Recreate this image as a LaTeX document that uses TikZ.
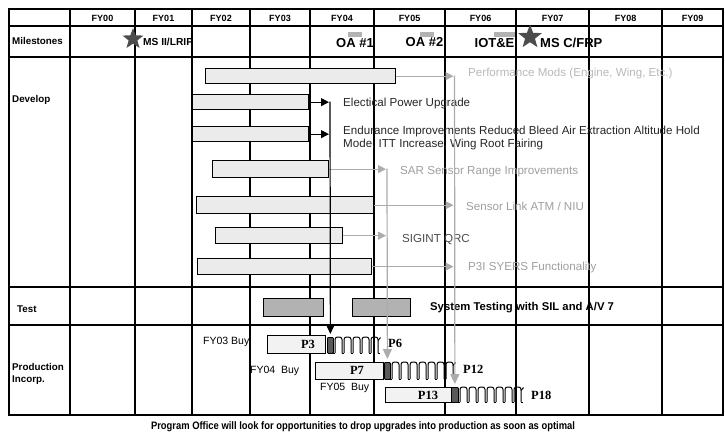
\documentclass[tikz,border=0pt]{standalone}
\usepackage{graphicx}
\usepackage{fontspec}
\setmainfont{Liberation Sans}
\newfontfamily\tms{Liberation Serif}
\usetikzlibrary{arrows.meta,shapes.geometric}
\newcommand\mybar[6]{\node[#1, minimum width={(#5-#3)*1pt}, minimum height={(#6-#4)*1pt}] (#2) at (#3,#4) {};}
\newcommand\mychain[4]{%
  \draw[line width=1pt] ({#1-2},#4) -- (#1,#4);
  \foreach \i in {1,...,#2}{%
    \pgfmathsetmacro\xa{#1+(\i-1)*9}
    \draw[chainst] (\xa,#4) -- (\xa,#3) -- (\xa+7,#3) -- (\xa+7,#4);
    \ifnum\i<#2 \draw[line width=1pt] (\xa+7,#4) -- (\xa+9,#4);\fi
  }
  \draw[line width=1pt] ({#1+(#2-1)*9+7},{#3+3.5}) -- ++(2.5,-3);
  \draw[line width=1pt] ({#1+(#2-1)*9+7},#4) -- ++(2,0);}
\begin{document}
\begin{tikzpicture}[x=1pt,y=-1pt,
  gridline/.style={line width=1.4pt},
  hdr/.style={font=\bfseries\fontsize{9}{10}\selectfont},
  rowlbl/.style={font=\bfseries\fontsize{9.8}{12}\selectfont, anchor=west, align=left, inner sep=0},
  devbar/.style={draw, line width=1.3pt, fill=gray!16, inner sep=0, anchor=north west},
  testbar/.style={draw, line width=1.3pt, fill=gray!60, inner sep=0, anchor=north west},
  prodbox/.style={draw, line width=1pt, fill=gray!10, inner sep=0, anchor=north west},
  darkrect/.style={draw, line width=0.8pt, fill=gray!70!black, inner sep=0, anchor=north west, rounded corners=1pt},
  chainst/.style={line width=1pt, rounded corners=2.5pt},
  dtext/.style={font=\fontsize{11.6}{13.5}\selectfont, anchor=west, inner sep=0, align=left},
  gtext/.style={dtext, text=gray!75},
  msl/.style={font=\bfseries\fontsize{13}{14}\selectfont, inner sep=0},
  msrect/.style={fill=gray!60, inner sep=0, anchor=north west},
  mstar/.style={star, star points=5, star point ratio=2.4, fill=gray!60!black, inner sep=0},
  plabel/.style={font=\tms\bfseries\fontsize{12.5}{14}\selectfont, inner sep=0},
  buy/.style={font=\fontsize{10.5}{12}\selectfont, anchor=west, inner sep=0},
  garrow/.style={draw=gray!65, line width=1.1pt, -{Triangle[length=8pt,width=8pt]}},
  barrow/.style={draw=black, line width=1.1pt, -{Triangle[length=8pt,width=8pt]}},
  gvline/.style={draw=gray!65, line width=1.2pt, -{Triangle[length=10pt,width=9pt]}, shorten >=3pt},
  bvline/.style={draw=black, line width=1.2pt, -{Triangle[length=10pt,width=9pt]}, shorten >=3pt}
]
\fill[white] (0,0) rectangle (725,440);
\useasboundingbox (0,0) rectangle (725,440);

% grid
\draw[gridline] (9,9) rectangle (723,415);
\foreach \y in {26,57,287,325} \draw[gridline] (9,\y) -- (723,\y);
\foreach \x in {70,135,192,250,310,374,445,516,589,662} \draw[gridline] (\x,9) -- (\x,415);

% headers
\node[hdr] (h0) at (102.5,18) {FY00};
\node[hdr] (h1) at (163.5,18) {FY01};
\node[hdr] (h2) at (221,18) {FY02};
\node[hdr] (h3) at (280,18) {FY03};
\node[hdr] (h4) at (342,18) {FY04};
\node[hdr] (h5) at (409.5,18) {FY05};
\node[hdr] (h6) at (480.5,18) {FY06};
\node[hdr] (h7) at (552.5,18) {FY07};
\node[hdr] (h8) at (625.5,18) {FY08};
\node[hdr] (h9) at (692.5,18) {FY09};

% row labels
\node[rowlbl] (rMil) at (12,41) {Milestones};
\node[rowlbl] (rDev) at (12,100) {Develop};
\node[rowlbl] (rTest) at (17,309) {Test};
\node[rowlbl] (rProd) at (12,374) {Production\\Incorp.};

% milestones
\node[mstar, minimum size=22pt] (s1) at (133,39) {};
\node[font=\bfseries\fontsize{10.2}{11}\selectfont, anchor=west, inner sep=0] (ms2) at (143,42) {MS II/LRIP};
\node[msrect, minimum width=14pt, minimum height=5pt] (oa1r) at (348,31.5) {};
\node[msl] (oa1) at (355,43) {OA \#1};
\node[msrect, minimum width=14pt, minimum height=5pt] (oa2r) at (420,31.5) {};
\node[msl] (oa2) at (424.5,42) {OA \#2};
\node[msrect, minimum width=21pt, minimum height=5pt] (iotr) at (494,31.5) {};
\node[msl] (iot) at (494.5,43) {IOT\&E};
\node[mstar, minimum size=25pt] (s2) at (530,37) {};
\node[msl, anchor=west] (msc) at (540,43) {MS C/FRP};

% develop bars
\mybar{devbar}{b1}{205}{68}{395}{83}
\mybar{devbar}{b2}{192}{94}{308}{109}
\mybar{devbar}{b3}{192}{126}{308}{141}
\mybar{devbar}{b4}{212}{160}{328}{177}
\mybar{devbar}{b5}{196}{196}{373}{213}
\mybar{devbar}{b6}{215}{227}{342}{243}
\mybar{devbar}{b7}{197}{258}{371}{274}

% develop labels
\node[gtext, text=gray!55] (t1) at (468,73) {Performance Mods (Engine, Wing, Etc.)};
\node[dtext, text=black!85] (t2) at (343,103) {Electical Power Upgrade};
\node[dtext, text=black!85] (t3) at (343,138) {Endurance Improvements Reduced Bleed Air Extraction Altitude Hold\\Mode, ITT Increase, Wing Root Fairing};
\node[gtext] (t4) at (400,172) {SAR Sensor Range Improvements};
\node[gtext] (t5) at (466,206) {Sensor Link ATM / NIU};
\node[dtext, text=black!70] (t6) at (402,240) {SIGINT QRC};
\node[gtext] (t7) at (468,267) {P3I SYERS Functionality};

% test
\mybar{testbar}{tb1}{263}{298}{323}{316}
\mybar{testbar}{tb2}{352}{298}{410}{316}
\node[font=\bfseries\fontsize{11.3}{12}\selectfont, anchor=west, inner sep=0] (tt) at (430,308) {System Testing with SIL and A/V 7};

% production
\node[buy] (buy3) at (203,342) {FY03 Buy};
\mybar{prodbox}{p3}{267}{335}{325}{353}
\node[plabel] (p3l) at (308,344) {P3};
\mybar{darkrect}{d3}{327}{337}{333}{353}
\mychain{335}{5}{337}{353}
\node[plabel, anchor=west] (p6) at (388,343) {P6};

\node[buy] (buy4) at (250,371) {FY04\ \ Buy};
\mybar{prodbox}{p7}{315}{362}{383}{379}
\node[plabel] (p7l) at (357,370.5) {P7};
\mybar{darkrect}{d7}{384}{362}{390}{379}
\mychain{392}{7}{362}{379}
\node[plabel, anchor=west] (p12) at (463,369) {P12};

\node[buy] (buy5) at (320,388) {FY05\ \ Buy};
\mybar{prodbox}{p13}{385}{387}{451}{402}
\node[plabel] (p13l) at (428,395) {P13};
\mybar{darkrect}{d13}{451}{387}{458}{402}
\mychain{460}{7}{387}{402}
\node[plabel, anchor=west] (p18) at (531,395) {P18};

% connectors
\coordinate (v1) at (330,101.5);
\coordinate (v2) at (387,168.5);
\coordinate (v3) at (454.5,75.5);
\draw[garrow, shorten >=1pt] (b1.east) -- (b1.east -| v3);
\draw[barrow] (b2.east) -- ([xshift=-1pt]b2.east -| v1);
\draw[barrow] (b3.east) -- ([xshift=-1pt]b3.east -| v1);
\draw[garrow] (b4.east) -- ([xshift=-1pt]b4.east -| v2);
\draw[garrow] (b5.east) -- ([xshift=-1pt]b5.east -| v3);
\draw[garrow] (b6.east) -- ([xshift=-1pt]b6.east -| v2);
\draw[garrow] (b7.east) -- ([xshift=-1pt]b7.east -| v3);
\draw[bvline] (v1) -- (d3.north);
\draw[gvline] (v2) -- (d7.north);
\draw[gvline] (v3) -- (d13.north);

% footer
\node[font=\bfseries\fontsize{10.8}{12}\selectfont] (foot) at (363,427) {\scalebox{0.87}[1]{Program Office will look for opportunities to drop upgrades into production as soon as optimal}};
\end{tikzpicture}
\end{document}
